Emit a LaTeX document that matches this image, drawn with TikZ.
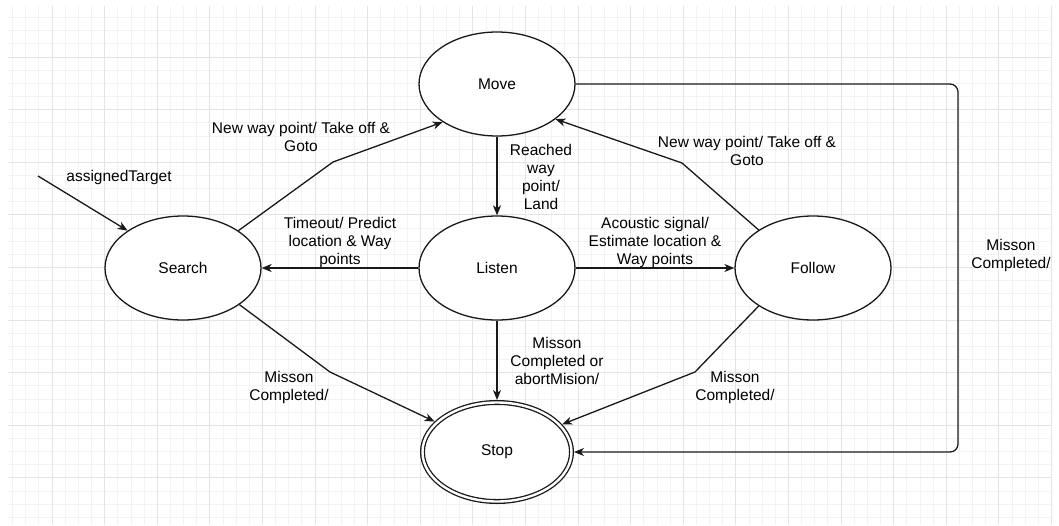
\documentclass[tikz,border=0pt]{standalone}
\usepackage{fontspec}
\setmainfont{Liberation Sans}
\usetikzlibrary{positioning, arrows.meta, shapes.geometric}
\definecolor{gridMinor}{RGB}{243,243,243}
\definecolor{gridMajor}{RGB}{228,228,228}
\definecolor{lineBlack}{RGB}{25,25,25}
\tikzset{
  %% plain state of the machine
  state/.style={
    ellipse, minimum width=156pt, minimum height=104pt,
    inner sep=0pt, draw=lineBlack, line width=1.3pt, fill=white,
    font=\fontsize{15.5}{18}\selectfont
  },
  %% final state (double border)
  stateFinal/.style={
    state, double, double distance=2.4pt,
    minimum width=149pt, minimum height=99pt, outer sep=2.5pt
  },
  %% transition arrow
  arr/.style={
    -{Stealth[length=10pt,width=8pt,inset=3pt]},
    line width=1.3pt, color=lineBlack
  },
  %% transition label
  lbl/.style={
    align=center, inner sep=0pt,
    font=\fontsize{15.5}{18}\selectfont, text=black
  }
}

\begin{document}
\begin{tikzpicture}[x=1pt, y=-1pt]

\useasboundingbox (0,0) rectangle (1059,525);
\fill[white] (0,0) rectangle (1059,525);

%% ═══════════════════════════════════════════════════════════
%%  BACKGROUND GRID
%% ═══════════════════════════════════════════════════════════

\foreach \k in {0,...,79}
  \draw[gridMinor, line width=0.8pt] ({12.55+13.15*\k},6) -- ({12.55+13.15*\k},525);
\foreach \k in {0,...,38}
  \draw[gridMinor, line width=0.8pt] (8,{17.55+13.15*\k}) -- (1052,{17.55+13.15*\k});
\foreach \k in {0,...,19}
  \draw[gridMajor, line width=0.8pt] ({52+52.6*\k},6) -- ({52+52.6*\k},525);
\foreach \k in {0,...,9}
  \draw[gridMajor, line width=0.8pt] (8,{57+52.6*\k}) -- (1052,{57+52.6*\k});

%% ═══════════════════════════════════════════════════════════
%%  STATES
%% ═══════════════════════════════════════════════════════════

\node[state] (move)   at (497, 84)  {Move};
\node[state] (listen) at (497, 268) {Listen};
\node[state] (search) at (183, 268) {Search};
\node[state] (follow) at (813, 268) {Follow};
\node[stateFinal] (stop) at (497, 452) {Stop};

%% ═══════════════════════════════════════════════════════════
%%  INITIAL TRANSITION
%% ═══════════════════════════════════════════════════════════

\coordinate (init) at (38, 176);
\draw[arr] (init) -- (search.146);
\node[lbl] (initLbl) at (119, 177) {assignedTarget};

%% ═══════════════════════════════════════════════════════════
%%  TRANSITIONS
%% ═══════════════════════════════════════════════════════════

% Search -> Move
\draw[arr] (search.34) -- (333, 162) -- (move.215);
\node[lbl] at (301, 137) {New way point/ Take off \&\\Goto};

% Move -> Listen
\draw[arr] (move.south) -- (listen.north);
\node[lbl] at (541, 177) {Reached\\way\\point/\\Land};

% Listen -> Search
\draw[arr] (listen.west) -- (search.east);
\node[lbl] at (340, 242) {Timeout/ Predict\\location \& Way\\points};

% Listen -> Follow
\draw[arr] (listen.east) -- (follow.west);
\node[lbl] at (655, 242) {Acoustic signal/\\Estimate location \&\\Way points};

% Follow -> Move
\draw[arr] (follow.145) -- (682, 163) -- (move.-31);
\node[lbl] at (747, 151) {New way point/ Take off \&\\Goto};

% Listen -> Stop
\draw[arr] (listen.south) -- (stop.north);
\node[lbl] at (557, 361) {Misson\\Completed or\\abortMision/};

% Search -> Stop
\draw[arr] (search.-33) -- (330, 372) -- (stop.154);
\node[lbl] at (289, 387) {Misson\\Completed/};

% Follow -> Stop
\draw[arr] (follow.215) -- (695, 372) -- (stop.23);
\node[lbl] at (735, 387) {Misson\\Completed/};

% Move -> Stop (round the right side)
\coordinate (turnTop) at (958, 84);
\coordinate (turnBot) at (958, 452);
\draw[arr, rounded corners=8pt] (move.east) -- (turnTop) -- (turnBot) -- (stop.east);
\node[lbl] at (1011, 255) {Misson\\Completed/};

\end{tikzpicture}
\end{document}
